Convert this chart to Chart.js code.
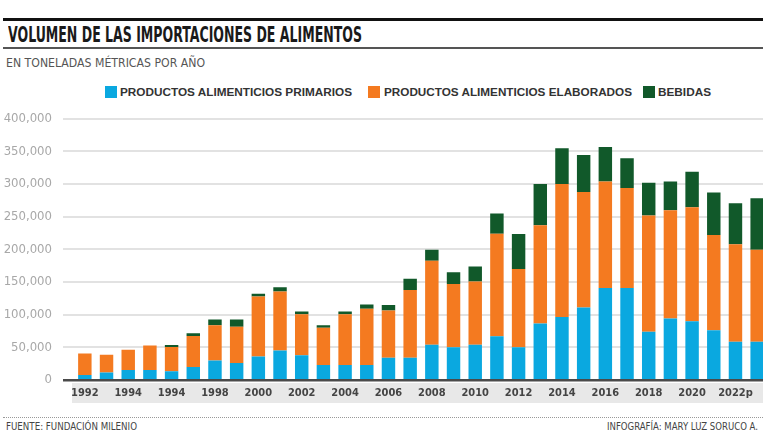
<!DOCTYPE html>
<html><head><meta charset="utf-8">
<script src="https://cdn.jsdelivr.net/npm/chart.js@4/dist/chart.umd.min.js"></script>
<style>
html,body{margin:0;padding:0;background:#fff;overflow:hidden;width:763px;height:434px;}
body{position:relative;font-family:'Liberation Sans Narrow','DejaVu Sans Condensed','Liberation Sans',sans-serif;}
.abs{position:absolute;white-space:nowrap;transform-origin:0 50%;}
#topline{position:absolute;left:3px;top:18px;width:760px;height:3px;background:#111;}
#title{left:8px;top:23px;font-size:21px;font-weight:bold;color:#1a1a1a;line-height:24px;}
#midline{position:absolute;left:3px;top:47px;width:760px;height:2px;background:#555;}
#subtitle{left:6px;top:56px;font-size:12px;color:#555;line-height:14px;}
.leg{top:85px;height:14px;line-height:14px;font-family:'Liberation Sans',Arial,sans-serif;font-weight:bold;font-size:11px;color:#333;}
.sw{position:absolute;width:12px;height:12px;top:86px;}
#chartwrap{position:absolute;left:0;top:100px;width:770px;height:310px;}
#dots{position:absolute;left:3px;top:417px;width:760px;height:0;border-top:1px dotted #999;}
.foot{top:421px;font-size:10px;color:#444;line-height:12px;}
#foot1{left:6px;}
</style></head>
<body>
<div id="topline"></div>
<div id="title" class="abs">VOLUMEN DE LAS IMPORTACIONES DE ALIMENTOS</div>
<div id="midline"></div>
<div id="subtitle" class="abs">EN TONELADAS MÉTRICAS POR AÑO</div>
<div id="legend"></div>
<div id="chartwrap"><canvas id="c" width="770" height="310"></canvas></div>
<div id="dots"></div>
<div id="foot1" class="abs foot">FUENTE: FUNDACIÓN MILENIO</div>
<div id="foot2" class="abs foot">INFOGRAFÍA: MARY LUZ SORUCO A.</div>
<script>
const years = ['1992','1993','1994','1995','1996','1997','1998','1999','2000','2001','2002','2003','2004','2005','2006','2007','2008','2009','2010','2011','2012','2013','2014','2015','2016','2017','2018','2019','2020','2021','2022p','2023p'];
const tickLabels = ['1992','','1994','','1994','','1998','','2000','','2002','','2004','','2006','','2008','','2010','','2012','','2014','','2016','','2018','','2020','','2022p',''];
const primarios = [7500,11500,15500,15500,13500,20000,30000,26000,36000,45000,38000,23000,23000,23000,34000,34000,54000,50000,54000,67000,50000,86500,96500,111000,141000,141000,74000,94000,90000,76000,58500,58500];
const elaborados = [33000,27000,31000,37500,37000,47500,54000,55500,92000,90500,62500,57000,77500,86000,72500,104000,128500,97000,97000,157000,120000,150500,203500,177000,163000,153000,178000,166000,174500,146000,149500,141000];
const bebidas = [0,0,0,0,3000,4000,8500,11000,4000,6500,4500,4000,4500,6500,8500,17000,17000,18000,23000,31000,53500,63000,55000,56500,53000,45500,50000,44000,54500,65000,62500,79000];
const seriesNames = ['PRODUCTOS ALIMENTICIOS PRIMARIOS','PRODUCTOS ALIMENTICIOS ELABORADOS','BEBIDAS'];
const seriesColors = ['#0aa8e0','#f47a20','#11592a'];
const yMax = 400000, yStep = 50000;

function fit(el, w){ const r = el.getBoundingClientRect().width; if(r>0) el.style.transform = 'scaleX(' + (w/r) + ')'; }

// legend
const legPos = [[105,120,232],[368,384,248],[643,658,53]];
const legend = document.getElementById('legend');
seriesNames.forEach((n,i)=>{
  const s = document.createElement('div'); s.className='sw'; s.style.left=legPos[i][0]+'px'; s.style.background=seriesColors[i]; legend.appendChild(s);
  const t = document.createElement('div'); t.className='abs leg'; t.style.left=legPos[i][1]+'px'; t.textContent=n; legend.appendChild(t);
  fit(t, legPos[i][2]);
});
fit(document.getElementById('title'), 354);
fit(document.getElementById('subtitle'), 199);
fit(document.getElementById('foot1'), 131);
const f2 = document.getElementById('foot2'); f2.style.left='607px'; fit(f2, 151);

const bandPlugin = {
  id:'band',
  beforeDraw(chart){
    const {ctx, chartArea} = chart;
    ctx.save(); ctx.fillStyle='#e8e8e8';
    ctx.fillRect(72, chartArea.bottom+3, chart.width-72, 20);
    ctx.restore();
  },
  afterDatasetsDraw(chart){
    const {ctx, chartArea} = chart;
    ctx.save(); ctx.fillStyle='#4a4a4a';
    ctx.fillRect(63, chartArea.bottom-1, chart.width-63, 2.5);
    ctx.restore();
  }
};

const mk = (i, data) => ({label: seriesNames[i], data, backgroundColor: seriesColors[i], borderWidth:0, barPercentage:0.62, categoryPercentage:1});
new Chart(document.getElementById('c'), {
  type:'bar',
  data:{labels: years, datasets:[mk(0,primarios), mk(1,elaborados), mk(2,bebidas)]},
  options:{
    responsive:false, animation:false, devicePixelRatio:1,
    layout:{padding:{top:16,right:2,left:0,bottom:0}},
    plugins:{legend:{display:false}, tooltip:{enabled:false}},
    scales:{
      x:{stacked:true, grid:{display:false, drawTicks:false}, border:{display:false},
         afterFit(s){ s.height = 30; },
         ticks:{autoSkip:false, maxRotation:0, padding:7, color:'#444',
           font:{family:"'Liberation Sans Narrow','DejaVu Sans Condensed',sans-serif", size:11, weight:'bold'},
           callback:(v,i)=>tickLabels[i]}},
      y:{stacked:true, min:0, max:yMax, border:{display:false},
         afterFit(s){ s.width = 74; },
         grid:{color:'#e2e2e2', lineWidth:2, drawTicks:true, tickLength:11, tickColor:'#e2e2e2'},
         ticks:{stepSize:yStep, padding:11, color:'#a8a8a8',
           font:{family:"'Liberation Sans Narrow','DejaVu Sans Condensed',sans-serif", size:13},
           callback:(v)=>v.toLocaleString('en-US')}}
    }
  },
  plugins:[bandPlugin]
});
</script>
</body></html>
